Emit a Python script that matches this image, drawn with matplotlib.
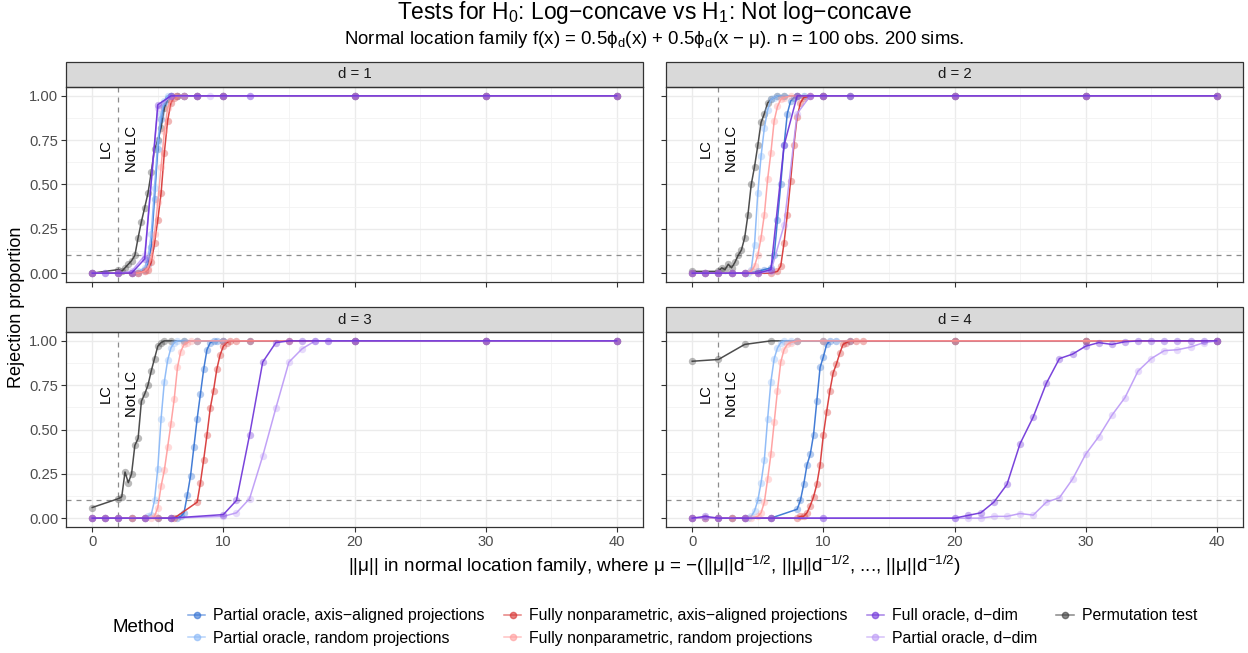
import matplotlib.pyplot as plt
from matplotlib.lines import Line2D
from matplotlib.patches import Rectangle

plt.rcParams['font.family'] = ['Liberation Sans', 'DejaVu Sans']

# SETTINGS
methods = ["Partial oracle, axis\u2212aligned projections",
           "Partial oracle, random projections",
           "Fully nonparametric, axis\u2212aligned projections",
           "Fully nonparametric, random projections",
           "Full oracle, d\u2212dim",
           "Partial oracle, d\u2212dim",
           "Permutation test"]
colors = ["#2f6fd2", "#86b6f7", "#d6302f", "#ff9a9a", "#6c30d8", "#bb98f6", "#3a3a3a"]
dims = [1, 2, 3, 4]

# ---- d = 1 ----
d1_pax_x = [0, 2, 3, 3.5, 4, 4.25, 4.5, 4.75, 5, 5.25, 5.5, 5.75, 6, 6.5, 7, 8, 10, 20, 30, 40]
d1_pax_y = [0, 0, 0, 0, 0.02, 0.05, 0.15, 0.42, 0.70, 0.87, 0.96, 0.99, 1, 1, 1, 1, 1, 1, 1, 1]
d1_prand_x = [0, 2, 3, 3.5, 4, 4.25, 4.5, 4.75, 5, 5.25, 5.5, 5.75, 6, 6.5, 7, 8, 10, 20, 30, 40]
d1_prand_y = [0, 0, 0, 0.01, 0.03, 0.08, 0.22, 0.48, 0.74, 0.90, 0.97, 1, 1, 1, 1, 1, 1, 1, 1, 1]
d1_fax_x = [0, 2, 3, 3.5, 4, 4.25, 4.5, 4.75, 5, 5.25, 5.5, 5.75, 6, 6.25, 6.5, 7, 8, 10, 20, 30, 40]
d1_fax_y = [0, 0, 0, 0, 0.01, 0.02, 0.06, 0.17, 0.30, 0.45, 0.68, 0.86, 0.96, 0.99, 1, 1, 1, 1, 1, 1, 1]
d1_frand_x = [0, 2, 3, 3.5, 4, 4.25, 4.5, 4.75, 5, 5.25, 5.5, 5.75, 6, 6.25, 6.5, 7, 8, 10, 20, 30, 40]
d1_frand_y = [0, 0, 0, 0, 0.01, 0.03, 0.09, 0.22, 0.40, 0.60, 0.80, 0.93, 0.98, 1, 1, 1, 1, 1, 1, 1, 1]
d1_full_x = [0, 1, 2, 3, 4, 5, 6, 8, 10, 12, 20, 30, 40]
d1_full_y = [0, 0, 0, 0, 0.08, 0.95, 1, 1, 1, 1, 1, 1, 1]
d1_pd_x = [0, 1, 2, 3, 4, 5, 6, 7, 8, 9, 10, 12, 20, 30, 40]
d1_pd_y = [0, 0, 0, 0.01, 0.10, 0.93, 1, 1, 1, 1, 1, 1, 1, 1, 1]
d1_perm_x = [0, 2, 2.25, 2.5, 2.75, 3, 3.25, 3.5, 3.75, 4, 4.25, 4.5, 4.75, 5, 5.25, 5.5, 5.75, 6, 6.5, 7, 8, 10, 20, 30, 40]
d1_perm_y = [0, 0.02, 0.01, 0.03, 0.05, 0.07, 0.10, 0.20, 0.29, 0.37, 0.45, 0.57, 0.70, 0.75, 0.82, 0.93, 0.98, 1, 1, 1, 1, 1, 1, 1, 1]

# ---- d = 2 ----
d2_pax_x = [0, 1, 2, 3, 4, 5, 5.5, 6, 6.25, 6.5, 6.75, 7, 7.25, 7.5, 7.75, 8, 8.5, 10, 20, 30, 40]
d2_pax_y = [0, 0, 0, 0, 0, 0.01, 0.02, 0.03, 0.10, 0.30, 0.50, 0.72, 0.90, 0.97, 0.99, 1, 1, 1, 1, 1, 1]
d2_prand_x = [0, 1, 2, 3, 4, 4.25, 4.5, 4.75, 5, 5.25, 5.5, 5.75, 6, 6.25, 6.5, 7, 8, 10, 20, 30, 40]
d2_prand_y = [0, 0, 0, 0, 0, 0, 0.02, 0.16, 0.45, 0.66, 0.82, 0.92, 0.98, 0.99, 1, 1, 1, 1, 1, 1, 1]
d2_fax_x = [0, 1, 2, 3, 4, 5, 6, 6.5, 6.75, 7, 7.25, 7.5, 7.75, 8, 8.25, 8.5, 9, 10, 20, 30, 40]
d2_fax_y = [0, 0, 0, 0, 0, 0, 0, 0.01, 0.04, 0.17, 0.33, 0.52, 0.72, 0.88, 0.96, 0.99, 1, 1, 1, 1, 1]
d2_frand_x = [0, 1, 2, 3, 4, 4.5, 4.75, 5, 5.25, 5.5, 5.75, 6, 6.25, 6.5, 6.75, 7, 7.5, 8, 10, 20, 30, 40]
d2_frand_y = [0, 0, 0, 0, 0, 0.01, 0.04, 0.10, 0.20, 0.33, 0.53, 0.68, 0.86, 0.94, 0.98, 0.99, 1, 1, 1, 1, 1, 1]
d2_full_x = [0, 1, 2, 3, 4, 5, 6, 7, 8, 9, 10, 12, 20, 30, 40]
d2_full_y = [0, 0, 0, 0, 0, 0, 0.02, 0.72, 1, 1, 1, 1, 1, 1, 1]
d2_pd_x = [0, 1, 2, 3, 4, 5, 6, 7, 8, 9, 10, 12, 20, 30, 40]
d2_pd_y = [0, 0, 0, 0, 0, 0, 0.01, 0.27, 0.90, 1, 1, 1, 1, 1, 1]
d2_perm_x = [0, 2, 2.25, 2.5, 2.75, 3, 3.25, 3.5, 3.75, 4, 4.25, 4.5, 4.75, 5, 5.25, 5.5, 5.75, 6, 6.5, 7, 8, 10, 12, 20, 30, 40]
d2_perm_y = [0.01, 0.01, 0.03, 0.02, 0.05, 0.03, 0.06, 0.10, 0.13, 0.20, 0.33, 0.50, 0.60, 0.72, 0.85, 0.90, 0.96, 0.98, 1, 1, 1, 1, 1, 1, 1, 1]

# ---- d = 3 ----
d3_pax_x = [0, 1, 2, 3, 4, 5, 6, 6.5, 6.75, 7, 7.25, 7.5, 7.75, 8, 8.25, 8.5, 8.75, 9, 9.25, 9.5, 10, 12, 20, 30, 40]
d3_pax_y = [0, 0, 0, 0, 0, 0, 0, 0, 0.01, 0.03, 0.13, 0.24, 0.40, 0.56, 0.70, 0.84, 0.95, 0.99, 1, 1, 1, 1, 1, 1, 1]
d3_prand_x = [0, 1, 2, 3, 4, 4.25, 4.5, 4.75, 5, 5.25, 5.5, 5.75, 6, 6.25, 6.5, 7, 8, 10, 20, 30, 40]
d3_prand_y = [0, 0, 0, 0, 0, 0.01, 0.02, 0.10, 0.28, 0.56, 0.77, 0.89, 0.96, 0.99, 1, 1, 1, 1, 1, 1, 1]
d3_fax_x = [0, 1, 2, 3, 4, 5, 6, 6.25, 8, 8.25, 8.5, 8.75, 9, 9.25, 9.5, 9.75, 10, 10.25, 10.5, 11, 12, 15, 20, 30, 40]
d3_fax_y = [0, 0, 0, 0, 0, 0, 0, 0, 0.09, 0.20, 0.33, 0.47, 0.62, 0.72, 0.84, 0.92, 0.97, 0.99, 1, 1, 1, 1, 1, 1, 1]
d3_frand_x = [0, 1, 2, 3, 4, 4.5, 4.75, 5, 5.25, 5.5, 5.75, 6, 6.25, 6.5, 6.75, 7, 7.25, 7.5, 8, 10, 20, 30, 40]
d3_frand_y = [0, 0, 0, 0, 0, 0, 0.01, 0.06, 0.18, 0.27, 0.40, 0.53, 0.67, 0.85, 0.94, 0.98, 0.99, 1, 1, 1, 1, 1, 1]
d3_full_x = [0, 1, 2, 4, 6, 10, 11, 12, 13, 14, 15, 16, 17, 18, 20, 30, 40]
d3_full_y = [0, 0, 0, 0, 0, 0.02, 0.10, 0.47, 0.88, 0.99, 1, 1, 1, 1, 1, 1, 1]
d3_pd_x = [0, 1, 2, 4, 6, 10, 11, 12, 13, 14, 15, 16, 17, 18, 20, 30, 40]
d3_pd_y = [0, 0, 0, 0, 0, 0.01, 0.03, 0.11, 0.35, 0.62, 0.88, 0.955, 1, 1, 1, 1, 1]
d3_perm_x = [0, 2, 2.25, 2.5, 2.75, 3, 3.25, 3.5, 3.75, 4, 4.25, 4.5, 4.75, 5, 5.25, 5.5, 6, 7, 8, 10, 20, 30, 40]
d3_perm_y = [0.06, 0.11, 0.12, 0.26, 0.20, 0.25, 0.41, 0.45, 0.66, 0.70, 0.75, 0.83, 0.90, 0.97, 0.99, 1, 1, 1, 1, 1, 1, 1, 1]

# ---- d = 4 ----
d4_pax_x = [0, 1, 2, 3, 4, 6, 8, 8.25, 8.5, 8.75, 9, 9.25, 9.5, 9.75, 10, 10.25, 10.5, 11, 12, 20, 30, 40]
d4_pax_y = [0, 0, 0, 0, 0, 0, 0.05, 0.10, 0.19, 0.30, 0.36, 0.47, 0.66, 0.85, 0.91, 0.98, 1, 1, 1, 1, 1, 1]
d4_prand_x = [0, 1, 2, 3, 4, 4.25, 4.5, 4.75, 5, 5.25, 5.5, 5.75, 6, 6.25, 6.5, 6.75, 7, 7.5, 8, 10, 20, 30, 40]
d4_prand_y = [0, 0, 0, 0, 0, 0, 0.01, 0.04, 0.10, 0.20, 0.33, 0.56, 0.77, 0.90, 0.96, 0.99, 1, 1, 1, 1, 1, 1, 1]
d4_fax_x = [0, 1, 2, 3, 4, 6, 8, 8.25, 8.5, 8.75, 9, 9.25, 9.5, 9.75, 10, 10.25, 10.5, 10.75, 11, 11.25, 11.5, 11.75, 12, 12.5, 13, 20, 30, 40]
d4_fax_y = [0, 0, 0, 0, 0, 0, 0, 0.01, 0.01, 0.03, 0.07, 0.12, 0.19, 0.30, 0.47, 0.60, 0.72, 0.82, 0.87, 0.93, 0.98, 0.99, 1, 1, 1, 1, 1, 1]
d4_frand_x = [0, 1, 2, 3, 4, 4.5, 5, 5.25, 5.5, 5.75, 6, 6.25, 6.5, 6.75, 7, 7.25, 7.5, 8, 10, 20, 30, 40]
d4_frand_y = [0, 0, 0, 0, 0, 0, 0.01, 0.03, 0.09, 0.22, 0.36, 0.54, 0.72, 0.88, 0.95, 0.98, 0.99, 1, 1, 1, 1, 1]
d4_full_x = [0, 1, 2, 4, 6, 10, 20, 21, 22, 23, 24, 25, 26, 27, 28, 29, 30, 31, 32, 33, 34, 35, 36, 37, 38, 39, 40]
d4_full_y = [0, 0.01, 0, 0, 0, 0, 0, 0.015, 0.03, 0.09, 0.19, 0.42, 0.57, 0.76, 0.90, 0.925, 0.97, 0.99, 0.98, 0.995, 1, 1, 1, 1, 1, 1, 1]
d4_pd_x = [0, 1, 2, 4, 6, 10, 20, 21, 22, 23, 24, 25, 26, 27, 28, 29, 30, 31, 32, 33, 34, 35, 36, 37, 38, 39, 40]
d4_pd_y = [0, 0, 0, 0, 0, 0, 0, 0, 0, 0.01, 0.01, 0.026, 0.017, 0.09, 0.115, 0.22, 0.36, 0.46, 0.58, 0.68, 0.83, 0.90, 0.945, 0.95, 0.965, 0.99, 1]
d4_perm_x = [0, 2, 4, 6, 8, 10, 20, 30, 40]
d4_perm_y = [0.885, 0.895, 0.98, 1, 1, 1, 1, 1, 1]

panels = {
    1: [(d1_pax_x, d1_pax_y), (d1_prand_x, d1_prand_y), (d1_fax_x, d1_fax_y), (d1_frand_x, d1_frand_y),
        (d1_full_x, d1_full_y), (d1_pd_x, d1_pd_y), (d1_perm_x, d1_perm_y)],
    2: [(d2_pax_x, d2_pax_y), (d2_prand_x, d2_prand_y), (d2_fax_x, d2_fax_y), (d2_frand_x, d2_frand_y),
        (d2_full_x, d2_full_y), (d2_pd_x, d2_pd_y), (d2_perm_x, d2_perm_y)],
    3: [(d3_pax_x, d3_pax_y), (d3_prand_x, d3_prand_y), (d3_fax_x, d3_fax_y), (d3_frand_x, d3_frand_y),
        (d3_full_x, d3_full_y), (d3_pd_x, d3_pd_y), (d3_perm_x, d3_perm_y)],
    4: [(d4_pax_x, d4_pax_y), (d4_prand_x, d4_prand_y), (d4_fax_x, d4_fax_y), (d4_frand_x, d4_frand_y),
        (d4_full_x, d4_full_y), (d4_pd_x, d4_pd_y), (d4_perm_x, d4_perm_y)],
}

W, H = 1248, 653
fig = plt.figure(figsize=(W / 100, H / 100), dpi=100)

# panel boxes in pixels: (left, top)
pw, ph, strip_h = 577, 195, 25
boxes = {1: (66, 87), 2: (666, 87), 3: (66, 332), 4: (666, 332)}

grey20 = "#333333"
for d in dims:
    left, top = boxes[d]
    ax = fig.add_axes([left / W, 1 - (top + ph) / H, pw / W, ph / H])
    ax.set_xlim(-2, 42)
    ax.set_ylim(-0.05, 1.05)
    ax.set_xticks([0, 10, 20, 30, 40])
    ax.set_xticks([5, 15, 25, 35], minor=True)
    ax.set_yticks([0, 0.25, 0.5, 0.75, 1.0])
    ax.set_yticks([0.125, 0.375, 0.625, 0.875], minor=True)
    ax.grid(which='major', color="#ebebeb", lw=1.0)
    ax.grid(which='minor', color="#f2f2f2", lw=0.6)
    ax.set_axisbelow(True)
    for s in ax.spines.values():
        s.set_color(grey20)
        s.set_linewidth(0.9)
    ax.tick_params(which='major', length=3.5, width=0.8, color=grey20, labelcolor="#4d4d4d", labelsize=10.6, pad=2)
    ax.tick_params(which='minor', length=0)
    if d in (1, 3):
        ax.set_yticklabels(["0.00", "0.25", "0.50", "0.75", "1.00"])
    else:
        ax.set_yticklabels([])
    if d in (3, 4):
        ax.set_xticklabels(["0", "10", "20", "30", "40"])
    else:
        ax.set_xticklabels([])

    # reference lines
    ax.axvline(2, color="#8c8c8c", lw=0.9, ls=(0, (4, 4)), zorder=1)
    ax.axhline(0.1, color="#8c8c8c", lw=0.9, ls=(0, (4, 4)), zorder=1)
    ax.text(1, 0.7, "LC", rotation=90, ha='center', va='center', fontsize=10.6)
    ax.text(3, 0.7, "Not LC", rotation=90, ha='center', va='center', fontsize=10.6)

    order = [6, 0, 1, 2, 3, 5, 4]
    for i in order:
        xs, ys = panels[d][i]
        ax.plot(xs, ys, color=colors[i], lw=1.1, alpha=0.9, zorder=3)
        ax.scatter(xs, ys, color=colors[i], s=28, alpha=0.35, lw=0, zorder=3)

    # facet strip
    ax.add_patch(Rectangle((0, 1), 1, strip_h / ph, transform=ax.transAxes, facecolor="#d9d9d9",
                           edgecolor=grey20, lw=0.9, clip_on=False))
    ax.text(0.5, 1 + strip_h / ph / 2, f"d = {d}", transform=ax.transAxes, ha='center', va='center',
            fontsize=10.8, color="#1a1a1a")

# titles
cx = (66 + 666 + pw) / 2 / W
fig.text(cx, 1 - 13 / H, "Tests for H$_\\mathregular{0}$: Log\u2212concave vs H$_\\mathregular{1}$: Not log\u2212concave",
         ha='center', va='center', fontsize=16.4)
fig.text(cx, 1 - 40 / H,
         "Normal location family f(x) = 0.5\u03d5$_\\mathregular{d}$(x) + 0.5\u03d5$_\\mathregular{d}$(x \u2212 \u03bc). n = 100 obs. 200 sims.",
         ha='center', va='center', fontsize=13.4)
fig.text(cx, 1 - 566 / H,
         "||\u03bc|| in normal location family, where \u03bc = \u2212(||\u03bc||d$^\\mathregular{\u22121/2}$, "
         "||\u03bc||d$^\\mathregular{\u22121/2}$, ..., ||\u03bc||d$^\\mathregular{\u22121/2}$)",
         ha='center', va='center', fontsize=13.6)
fig.text(17 / W, 1 - 307 / H, "Rejection proportion", rotation=90, ha='center', va='center', fontsize=13)

# legend
handles = [Line2D([0], [0], color=c, lw=1.1, marker='o', markersize=4.5, alpha=0.6) for c in colors]
fig.text(113 / W, 1 - 627 / H, "Method", ha='left', va='center', fontsize=13.5)
fig.legend(handles, methods, loc='center left', bbox_to_anchor=(188 / W, 1 - 627 / H), ncol=4,
           frameon=False, fontsize=11.4, handlelength=1.1, handletextpad=0.5, columnspacing=1.2,
           labelspacing=0.45, borderpad=0, borderaxespad=0)

fig.savefig("out.png", dpi=100)
